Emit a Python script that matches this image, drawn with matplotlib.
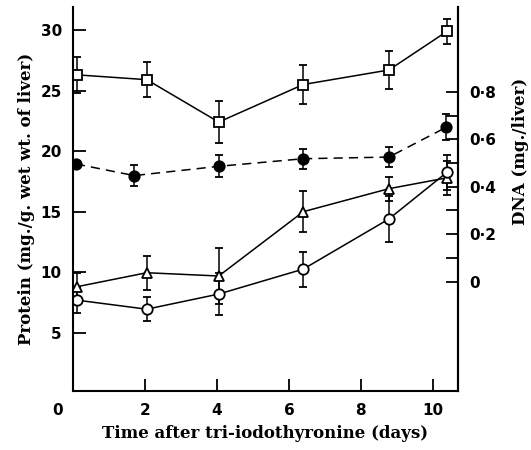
import matplotlib
matplotlib.use('Agg')
import matplotlib.pyplot as plt
from matplotlib.transforms import ScaledTranslation
from matplotlib.ticker import FuncFormatter

# days after tri-iodothyronine
days = [0.1, 2.05, 4.05, 6.4, 8.78, 10.4]
days_fc = [0.08, 1.7, 4.05, 6.4, 8.78, 10.38]

# protein (mg./g. wet wt. of liver) - open squares
sq = [26.3, 25.9, 22.4, 25.5, 26.7, 29.9]
sq_err = [1.5, 1.45, 1.75, 1.6, 1.55, 1.05]
# open triangles
tri = [8.8, 9.96, 9.69, 15.0, 16.9, 17.8]
tri_err = [1.1, 1.4, 2.3, 1.7, 1.0, 1.4]
# open circles
circ = [7.7, 6.95, 8.2, 10.26, 14.4, 18.27]
circ_err = [1.1, 1.0, 1.7, 1.45, 1.9, 1.45]
# DNA (mg./liver) - filled circles
dna = [0.496, 0.447, 0.486, 0.518, 0.525, 0.651]
dna_err = [0.0, 0.045, 0.046, 0.043, 0.042, 0.056]

fig = plt.figure(figsize=(5.31, 4.5), dpi=100)
ax = fig.add_axes([73/531, 1-390.7/450, 385/531, 383.7/450])
ax2 = ax.twinx()

kw = dict(color='black', lw=1.1, elinewidth=1.1, capsize=3, capthick=1.3,
          markersize=7.5, markeredgewidth=1.3, mfc='white', mec='black')
ax.errorbar(days, sq, yerr=sq_err, marker='s', ls='-', **kw)
ax.errorbar(days, tri, yerr=tri_err, marker='^', ls='-', **kw)
ax.errorbar(days, circ, yerr=circ_err, marker='o', ls='-', **kw)
kw['mfc'] = 'black'
ax2.errorbar(days_fc, dna, yerr=dna_err, marker='o', ls=(0, (6, 4)), **kw)

ax.set_xlim(0, 10.7)
ax.set_ylim(0.22, 31.9)
ax2.set_ylim(-0.459, 1.157)

for a in (ax, ax2):
    a.spines['top'].set_visible(False)
    for s in a.spines.values():
        s.set_linewidth(1.5)
ax2.spines['left'].set_visible(False)
ax2.spines['bottom'].set_visible(False)

tickfont = dict(family='DejaVu Sans', weight='bold', size=11)
ax.set_xticks([0, 2, 4, 6, 8, 10])
ax.set_yticks([5, 10, 15, 20, 25, 30])
ax.tick_params(direction='in', length=9, width=1.3, pad=8)
ax.tick_params(axis='x', pad=9)
ax2.set_yticks([0, 0.2, 0.4, 0.6, 0.8])
ax2.set_yticks([0.1, 0.3, 0.5, 0.7], minor=True)
ax2.yaxis.set_major_formatter(FuncFormatter(lambda v, p: '0' if v == 0 else ('%.1f' % v).replace('.', '\u00b7')))
ax2.tick_params(which='both', direction='in', length=9, width=1.3, pad=8)
for lab in ax.get_xticklabels() + ax.get_yticklabels() + ax2.get_yticklabels():
    lab.set_fontproperties(matplotlib.font_manager.FontProperties(**tickfont))
# the origin "0" sits left of the corner
x0 = ax.get_xticklabels()[0]
x0.set_transform(x0.get_transform() + ScaledTranslation(-15/100, 0, fig.dpi_scale_trans))

labfont = dict(family='DejaVu Serif', weight='bold', size=12)
ax.set_xlabel('Time after tri-iodothyronine (days)', labelpad=5, **labfont)
ax.set_ylabel('Protein (mg./g. wet wt. of liver)', labelpad=4, **labfont)
ax2.set_ylabel('DNA (mg./liver)', rotation=90, ha='center', va='center', **labfont)
ax2.yaxis.set_label_coords(1.163, 0.625)

fig.savefig('out.png', dpi=100)
